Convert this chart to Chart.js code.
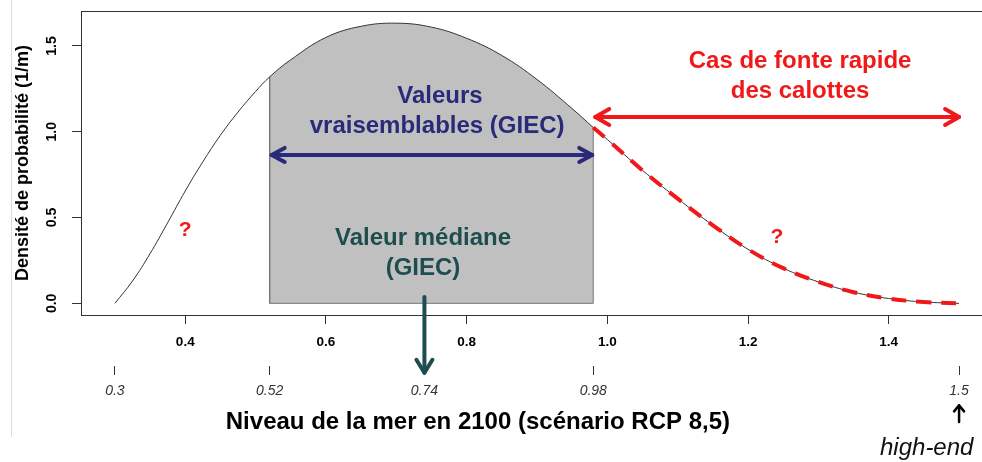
<!DOCTYPE html>
<html>
<head>
    <meta charset="utf-8">
    <title>Niveau de la mer en 2100</title>
    <style>
        body { margin: 0; background: #fff; }
        #wrap { width: 982px; height: 462px; }
    </style>
</head>
<body>
    <div id="wrap">
        <canvas id="seaChart" width="982" height="462"></canvas>
    </div>

    <script src="https://cdn.jsdelivr.net/npm/chart.js"></script>
    <script>
        // density curve (sea level in m, density in 1/m)
        var levels  = [0.30, 0.325, 0.35, 0.375, 0.40, 0.425, 0.45, 0.475, 0.50, 0.52,
                       0.55, 0.60, 0.65, 0.70, 0.75, 0.80, 0.85, 0.90, 0.95, 0.98,
                       1.00, 1.05, 1.10, 1.15, 1.20, 1.25, 1.30, 1.35, 1.40, 1.45, 1.50];
        var density = [0.00, 0.13, 0.29, 0.47, 0.655, 0.825, 0.98, 1.115, 1.235, 1.32,
                       1.42, 1.55, 1.615, 1.633, 1.61, 1.545, 1.445, 1.305, 1.135, 1.025,
                       0.955, 0.775, 0.61, 0.455, 0.315, 0.205, 0.125, 0.065, 0.028, 0.008, 0.00];

        var xTicks = [0.4, 0.6, 0.8, 1.0, 1.2, 1.4];
        var yTicks = [0.0, 0.5, 1.0, 1.5];
        // IPCC values shown on the second axis
        var giecTicks  = [0.3, 0.52, 0.74, 0.98, 1.5];
        var giecLabels = ['0.3', '0.52', '0.74', '0.98', '1.5'];

        var likelyLow = 0.52, median = 0.74, likelyHigh = 0.98, highEnd = 1.5;

        var curve = levels.map(function (x, i) { return { x: x, y: density[i] }; });
        var likelyPart = curve.filter(function (p) { return p.x >= likelyLow && p.x <= likelyHigh; });
        var fastPart = curve.filter(function (p) { return p.x >= likelyHigh; });
        var outline = [
            { x: likelyLow, y: likelyPart[0].y }, { x: likelyLow, y: 0 },
            { x: likelyHigh, y: 0 }, { x: likelyHigh, y: likelyPart[likelyPart.length - 1].y }
        ];

        var RED = '#f01818', NAVY = '#2a2a7a', TEAL = '#1e4d4f';

        function arrowHead(ctx, tx, ty, dx, dy, len, half) {
            // dx,dy = unit vector pointing toward the tip
            ctx.beginPath();
            ctx.moveTo(tx - dx * len - dy * half, ty - dy * len + dx * half);
            ctx.lineTo(tx, ty);
            ctx.lineTo(tx - dx * len + dy * half, ty - dy * len - dx * half);
            ctx.stroke();
        }

        function text(ctx, str, x, y, font, color) {
            ctx.font = font;
            ctx.fillStyle = color;
            ctx.textAlign = 'center';
            ctx.textBaseline = 'middle';
            ctx.fillText(str, x, y);
        }

        function noPad(s) { s.paddingTop = 0; s.paddingBottom = 0; s.paddingLeft = 0; s.paddingRight = 0; }

        var notes = {
            id: 'notes',
            afterDraw: function (chart) {
                var ctx = chart.ctx, xs = chart.scales.x, ys = chart.scales.y;
                var px = function (v) { return xs.getPixelForValue(v); };
                var py = function (v) { return ys.getPixelForValue(v); };
                ctx.save();

                // slide edge line
                ctx.strokeStyle = '#dcdcdc';
                ctx.lineWidth = 1;
                ctx.beginPath(); ctx.moveTo(11.5, 0); ctx.lineTo(11.5, 437); ctx.stroke();

                ctx.lineCap = 'round';
                ctx.lineJoin = 'round';

                // likely range arrow
                var yl = py(0.865);
                ctx.strokeStyle = NAVY; ctx.lineWidth = 4;
                ctx.beginPath(); ctx.moveTo(px(likelyLow) + 2, yl); ctx.lineTo(px(likelyHigh) - 1, yl); ctx.stroke();
                arrowHead(ctx, px(likelyLow) + 2, yl, -1, 0, 13, 7);
                arrowHead(ctx, px(likelyHigh) - 1, yl, 1, 0, 13, 7);

                // fast melting arrow
                var yr = py(1.086);
                ctx.strokeStyle = RED;
                ctx.beginPath(); ctx.moveTo(px(likelyHigh) + 2, yr); ctx.lineTo(px(highEnd), yr); ctx.stroke();
                arrowHead(ctx, px(likelyHigh) + 2, yr, -1, 0, 14, 8);
                arrowHead(ctx, px(highEnd), yr, 1, 0, 14, 8);

                // median arrow
                var xm = px(median);
                ctx.strokeStyle = TEAL;
                ctx.beginPath(); ctx.moveTo(xm, py(0.037)); ctx.lineTo(xm, py(-0.405)); ctx.stroke();
                arrowHead(ctx, xm, py(-0.405), 0, 1, 13, 8);

                // high-end arrow
                var xh = px(highEnd);
                ctx.strokeStyle = '#000'; ctx.lineWidth = 2.5;
                ctx.beginPath(); ctx.moveTo(xh, py(-0.692)); ctx.lineTo(xh, py(-0.595)); ctx.stroke();
                arrowHead(ctx, xh, py(-0.595), 0, -1, 6, 5);

                var big = 'bold 24px "Liberation Sans", Arial, sans-serif';
                text(ctx, 'Valeurs', px(0.762), py(1.209), big, NAVY);
                text(ctx, 'vraisemblables (GIEC)', px(0.758), py(1.034), big, NAVY);
                text(ctx, 'Valeur médiane', px(0.738), py(0.381), big, TEAL);
                text(ctx, '(GIEC)', px(0.738), py(0.206), big, TEAL);
                text(ctx, 'Cas de fonte rapide', px(1.274), py(1.413), big, RED);
                text(ctx, 'des calottes', px(1.274), py(1.238), big, RED);
                text(ctx, '?', px(0.40), py(0.427), 'bold 21px "Liberation Sans", Arial, sans-serif', RED);
                text(ctx, '?', px(1.241), py(0.386), 'bold 21px "Liberation Sans", Arial, sans-serif', RED);

                text(ctx, 'Niveau de la mer en 2100 (scénario RCP 8,5)', px(0.816), py(-0.692),
                     'bold 24px "Liberation Sans", Arial, sans-serif', '#000');
                text(ctx, 'high-end', px(1.454), py(-0.843), 'italic 24px "Liberation Sans", Arial, sans-serif', '#111');
                ctx.restore();
            }
        };

        var axisColor = '#333';
        var xTickFont = { family: '"Liberation Sans", Arial, sans-serif', size: 13.5, weight: 'bold' };
        var yTickFont = { family: '"Liberation Sans", Arial, sans-serif', size: 14, weight: 'bold' };

        new Chart(document.getElementById('seaChart').getContext('2d'), {
            type: 'scatter',
            data: {
                datasets: [
                    {
                        data: fastPart, showLine: true, pointRadius: 0,
                        borderColor: RED, borderWidth: 4, borderDash: [15, 10],
                        tension: 0.4, order: 0
                    },
                    {
                        data: curve, showLine: true, pointRadius: 0,
                        borderColor: '#333', borderWidth: 1,
                        tension: 0.4, order: 1
                    },
                    {
                        data: outline, showLine: true, pointRadius: 0,
                        borderColor: '#777', borderWidth: 1, tension: 0, order: 2
                    },
                    {
                        data: likelyPart, showLine: true, pointRadius: 0,
                        borderWidth: 0, borderColor: 'rgba(0,0,0,0)',
                        backgroundColor: '#c0c0c0', fill: 'origin',
                        tension: 0.4, order: 3
                    }
                ]
            },
            options: {
                responsive: false,
                animation: false,
                devicePixelRatio: 1,
                layout: { padding: 0 },
                plugins: { legend: { display: false }, tooltip: { enabled: false } },
                scales: {
                    x: {
                        type: 'linear', position: 'bottom', weight: 0,
                        min: 0.2518, max: 1.5326,
                        afterBuildTicks: function (s) { s.ticks = xTicks.map(function (v) { return { value: v }; }); },
                        afterFit: function (s) { s.height = 51; noPad(s); },
                        ticks: {
                            font: xTickFont, color: '#000', padding: 10, maxRotation: 0,
                            callback: function (v) { return Number(v).toFixed(1); }
                        },
                        grid: { drawOnChartArea: false, tickLength: 9, color: axisColor },
                        border: { color: axisColor, width: 1 }
                    },
                    x2: {
                        type: 'linear', position: 'bottom', weight: 1,
                        min: 0.2518, max: 1.5326,
                        afterBuildTicks: function (s) { s.ticks = giecTicks.map(function (v) { return { value: v }; }); },
                        afterFit: function (s) { s.height = 96; noPad(s); },
                        ticks: {
                            font: { family: '"Liberation Sans", Arial, sans-serif', size: 14, style: 'italic' },
                            color: '#333', padding: 8, maxRotation: 0,
                            callback: function (v) { return giecLabels[giecTicks.indexOf(v)]; }
                        },
                        grid: { drawOnChartArea: false, tickLength: 9, color: axisColor },
                        border: { display: false }
                    },
                    xTop: {
                        type: 'linear', position: 'top',
                        min: 0.2518, max: 1.5326,
                        afterFit: function (s) { s.height = 11; noPad(s); },
                        ticks: { display: false },
                        grid: { drawOnChartArea: false, drawTicks: false },
                        border: { color: axisColor, width: 1 }
                    },
                    y: {
                        type: 'linear', position: 'left',
                        min: -0.068, max: 1.704,
                        afterBuildTicks: function (s) { s.ticks = yTicks.map(function (v) { return { value: v }; }); },
                        afterFit: function (s) { s.width = 81; noPad(s); },
                        ticks: {
                            font: yTickFont, color: '#000', padding: 10,
                            minRotation: 90, maxRotation: 90, crossAlign: 'center',
                            callback: function (v) { return Number(v).toFixed(1); }
                        },
                        grid: { drawOnChartArea: false, tickLength: 9, color: axisColor },
                        border: { color: axisColor, width: 1 },
                        title: {
                            display: true,
                            text: 'Densité de probabilité (1/m)',
                            color: '#000',
                            font: { family: '"Liberation Sans", Arial, sans-serif', size: 18, weight: 'bold' },
                            padding: { top: 12, bottom: 0 }
                        }
                    }
                }
            },
            plugins: [notes]
        });
    </script>
</body>
</html>
